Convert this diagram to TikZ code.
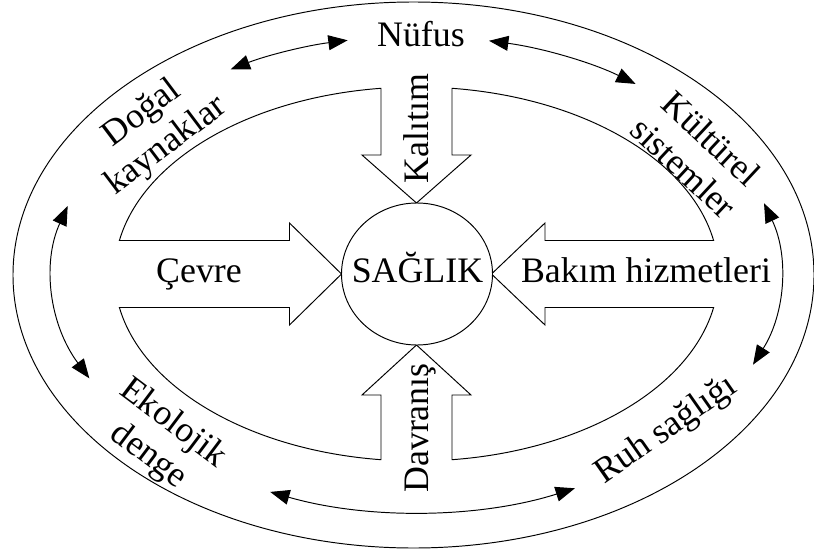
\documentclass[tikz,border=0pt]{standalone}
\usepackage{fontspec}
\setmainfont{Liberation Serif}
\usetikzlibrary{arrows.meta}

\begin{document}
\begin{tikzpicture}[x=0.2mm,y=0.2mm,
  lbl/.style={font=\fontsize{20.4}{23}\selectfont,inner sep=0pt},
  rim/.style={line width=0.55pt},
  link/.style={rim,>={Triangle[length=11pt,width=8.5pt]},<->}]
  \useasboundingbox (-416.5,-278) rectangle (397.5,274);
  \draw[rim] (-3,-1) ellipse [x radius=400.5, y radius=273];
  \draw[rim] (83.25:302 and 187) arc[start angle=83.25, end angle=10.32, x radius=302, y radius=187]
    -- (128.5,33.5) -- (128.5,51) -- (75,0) -- (128.5,-51) -- (128.5,-33.5) -- (-10.32:302 and 187)
    arc[start angle=-10.32, end angle=-83.25, x radius=302, y radius=187]
    -- (35.5,-121) -- (54.5,-121) -- (0,-71) -- (-54.5,-121) -- (-35.5,-121) -- (-96.75:302 and 187)
    arc[start angle=-96.75, end angle=-169.68, x radius=302, y radius=187]
    -- (-127,-33.5) -- (-127,-51) -- (-75,0) -- (-127,51) -- (-127,33.5) -- (169.68:302 and 187)
    arc[start angle=169.68, end angle=96.75, x radius=302, y radius=187]
    -- (-35.5,119) -- (-54.5,119) -- (0,71) -- (54.5,119) -- (35.5,119) -- cycle;
  \draw[rim,fill=white] (0.5,0) ellipse [x radius=75.5, y radius=71];
  \node[lbl,anchor=base] (saglik) at (1,-8) {SAĞLIK};
  \foreach \i/\a/\b in {1/120.7/100.9,2/78.5/53,3/17.3/-22.4,4/-64.2/-113.7,5/163.4/206} {
    \coordinate (m\i) at (\a:364 and 238);
    \draw[link] (m\i) arc[start angle=\a, end angle=\b, x radius=364, y radius=238];
  }
  \node[lbl,anchor=base] (nufus) at (4.5,227) {Nüfus};
  \node[lbl,anchor=base] (cevre) at (-217.5,-8) {Çevre};
  \node[lbl,anchor=base] (bakim) at (229.5,-8) {Bakım hizmetleri};
  \node[lbl,anchor=base,rotate=90] (kalitim) at (11.5,145.5) {Kalıtım};
  \node[lbl,anchor=base,rotate=90] (davranis) at (11.5,-154) {Davranış};
  \node[lbl,align=center,rotate=37] (dogal) at (-262,144) {Doğal\\kaynaklar};
  \node[lbl,align=center,rotate=-43] (kultur) at (281,121) {Kültürel\\sistemler};
  \node[lbl,align=center,rotate=-37] (ekoloji) at (-256,-166) {Ekolojik\\denge};
  \node[lbl,rotate=35] (ruh) at (250,-156.5) {Ruh sağlığı};
\end{tikzpicture}
\end{document}
